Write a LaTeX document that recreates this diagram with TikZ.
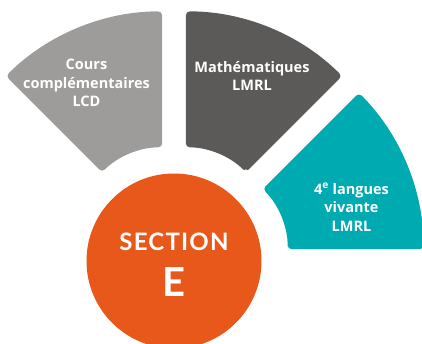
\documentclass[tikz,border=0pt]{standalone}
\usepackage{fontspec}
\setmainfont[Ligatures=NoCommon]{Open Sans}
\newfontfamily\secfont[LetterSpace=5]{Lato}
\usetikzlibrary{calc}
\definecolor{cgray}{HTML}{9D9C9B}
\definecolor{cdark}{HTML}{5B5A58}
\definecolor{cteal}{HTML}{00AAB1}
\definecolor{corange}{HTML}{E8581A}
\tikzset{
  lbl/.style={text=white, font=\bfseries\fontsize{14.5}{18.5}\selectfont, align=center, inner sep=0pt},
  sect/.style={rounded corners=4pt, draw=none}
}
\newcommand{\annsec}[4]{% center, a1, a2, colour
  \fill[sect, #4] ($(#1)+(#2:85)$) -- ($(#1)+(#2:221)$) arc[start angle=#2, end angle=#3, radius=221] -- ($(#1)+(#3:85)$) arc[start angle=#3, end angle=#2, radius=85] -- cycle;
}
\begin{document}
\begin{tikzpicture}[x=1pt,y=1pt]
\useasboundingbox (0,0) rectangle (422,344);
\clip (0,0) rectangle (422,344);
\coordinate (M) at (174,83);
\coordinate (cg) at ($(M)+(112.5:31)$);
\coordinate (cd) at ($(M)+(67.5:31)$);
\coordinate (ct) at ($(M)+(22.5:31)$);
\annsec{cg}{90}{135}{cgray}
\annsec{cd}{45}{90}{cdark}
\annsec{ct}{0}{45}{cteal}
\node[circle, fill=corange, minimum size=175, inner sep=0pt] (sec) at (M) {};
\node[lbl] (lcd) at (86.5,261) {Cours\\complémentaires\\LCD};
\node[lbl] (math) at (252,268) {Mathématiques\\LMRL};
\node[lbl] (lang) at (351.5,137) {4\textsuperscript{e} langues\\vivante\\LMRL};
\node[text=white, inner sep=0pt, font=\secfont\bfseries\fontsize{24}{24}\selectfont] (t1) at (174,102) {SECTION};
\node[text=white, inner sep=0pt, font=\secfont\bfseries\fontsize{40}{40}\selectfont] (t2) at (174,62) {E};
\end{tikzpicture}
\end{document}
